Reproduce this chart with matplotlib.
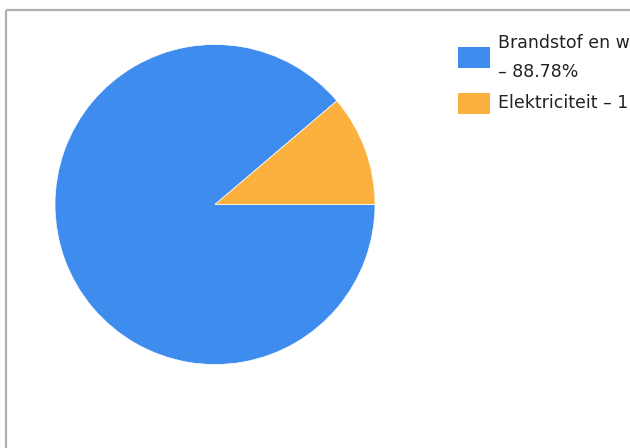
import matplotlib
matplotlib.use("Agg")
import matplotlib.pyplot as plt
from matplotlib.patches import Rectangle

categories = ["Brandstof en warmte", "Elektriciteit"]
values = [88.78, 11.22]
colors = ["#3f8cef", "#fcb03e"]

W, H = 630, 448
fig = plt.figure(figsize=(W / 100, H / 100), dpi=100)
ax = fig.add_axes([0, 0, 1, 1])
ax.set_xlim(0, W)
ax.set_ylim(0, H)
ax.set_aspect("equal")
ax.axis("off")

def Y(y):
    return H - y

# frame lines
ax.plot([5.5, W + 10], [Y(9.5), Y(9.5)], color="#b0b0b0", lw=1.6, solid_capstyle="butt")
ax.plot([5.5, 5.5], [Y(9.5), -10], color="#b0b0b0", lw=1.6, solid_capstyle="butt")

ax.pie(values, colors=colors, startangle=0, counterclock=False,
       center=(215, Y(204.5)), radius=160,
       wedgeprops=dict(linewidth=0.5, edgecolor="white"), frame=True)
ax.set_xlim(0, W)
ax.set_ylim(0, H)
ax.axis("off")

labels = [f"{categories[0]}\n– {values[0]:.2f}%", f"{categories[1]} – {values[1]:.2f}%"]
box_tops = [47, 93]
text_tops = [34, 94]
for lab, col, bt, tt in zip(labels, colors, box_tops, text_tops):
    ax.add_patch(Rectangle((458, Y(bt + 21)), 32, 21, facecolor=col, edgecolor="none"))
    ax.text(498, Y(tt), lab, ha="left", va="top", fontsize=12.5, color="#222222",
            family="DejaVu Sans", linespacing=1.75, clip_on=False)

fig.savefig("out.png", dpi=100)
